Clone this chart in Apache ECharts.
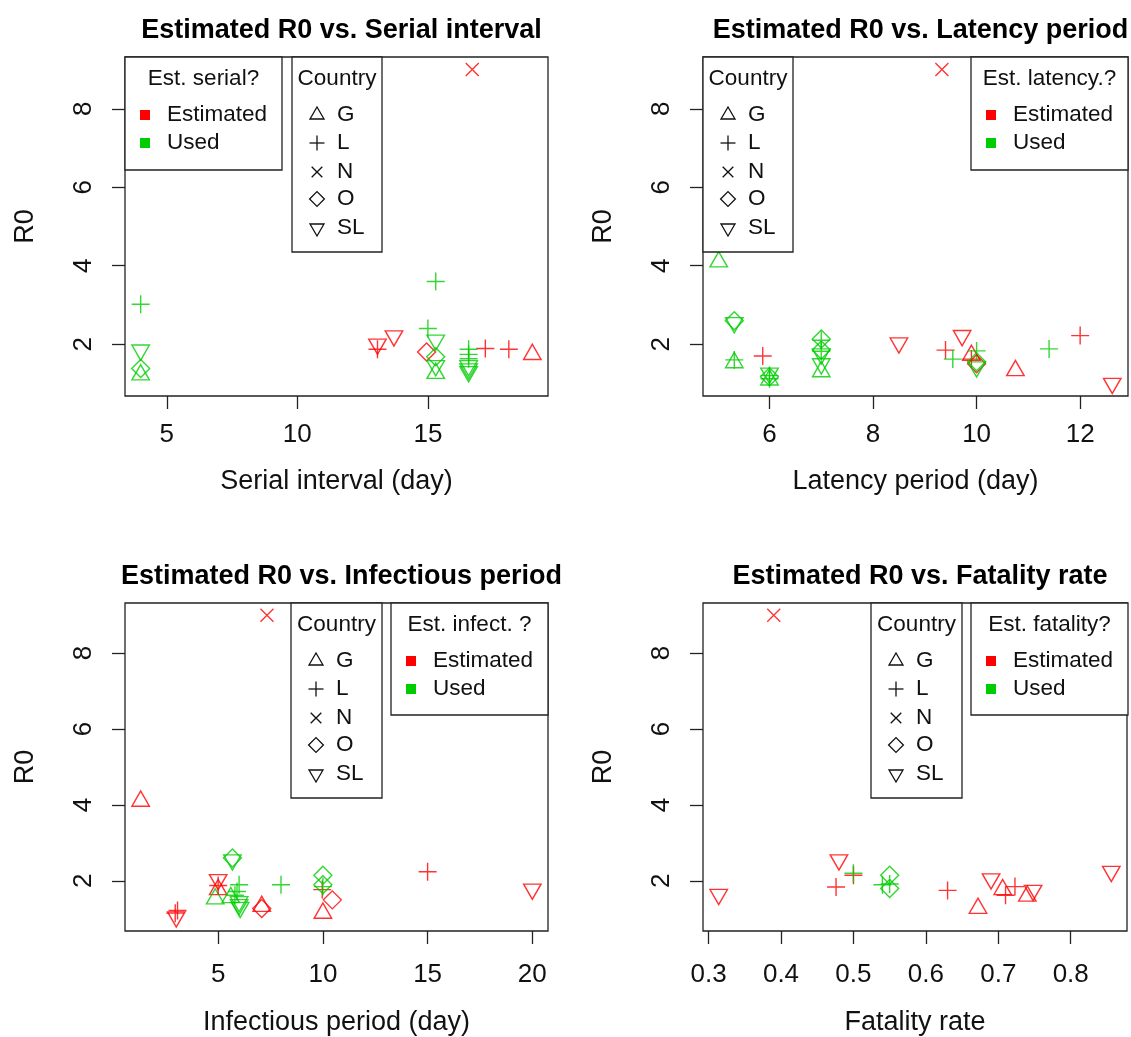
<!DOCTYPE html>
<html><head><meta charset="utf-8">
<script src="https://cdn.jsdelivr.net/npm/echarts@6/dist/echarts.min.js"></script>
<style>html,body{margin:0;padding:0;background:#fff}#c{width:1131px;height:1037px}</style>
</head><body><div id="c"></div>
<script>
const FONT = "'Liberation Sans', Arial, sans-serif";
const RED = '#ff0000', GREEN = '#00cd00', INK = '#111';

// ---------- DATA ----------
// est: 1 = Estimated (red), 0 = Used (green)
const serialX       = [4.0, 4.0, 4.0, 4.0, 13.07, 13.07, 13.7, 15.0, 15.3, 15.3, 14.95, 15.3, 15.3, 15.3, 16.56, 16.56, 16.56, 16.56, 16.56, 16.56, 17.2, 18.1, 19.0, 16.7];
const serialR0      = [3.02, 1.85, 1.38, 1.22, 2.0, 1.87, 2.21, 2.40, 3.6, 2.1, 1.80, 1.68, 1.45, 1.26, 1.87, 1.74, 1.63, 1.45, 1.37, 1.3, 1.89, 1.87, 1.74, 9.0];
const serialCountry = ['L','SL','O','G','SL','L','SL','L','L','SL','O','O','SL','G','L','L','L','SL','SL','SL','L','L','G','N'];
const serialEst     = [0,0,0,0,1,1,1,0,0,0,1,0,0,0,0,0,0,0,0,0,1,1,1,1];

const latencyX       = [5.02, 5.32, 5.32, 5.32, 5.32, 5.87, 6.0, 6.0, 6.0, 6.0, 6.0, 7.0, 7.0, 7.0, 7.0, 7.0, 7.0, 7.0, 8.5, 9.4, 9.54, 9.72, 9.9, 9.9, 10.0, 10.0, 10.0, 10.0, 10.75, 11.4, 12.0, 12.62, 9.33];
const latencyR0      = [4.1, 2.6, 2.55, 1.53, 1.6, 1.7, 1.26, 1.09, 1.2, 1.17, 1.12, 2.13, 2.1, 1.85, 1.82, 1.75, 1.5, 1.3, 2.03, 1.85, 1.62, 2.22, 1.72, 1.62, 1.83, 1.55, 1.42, 1.5, 1.33, 1.88, 2.22, 1.0, 9.0];
const latencyCountry = ['G','O','SL','G','L','L','SL','G','L','O','L','O','L','O','L','SL','SL','G','SL','L','L','SL','G','L','L','O','SL','O','G','L','L','SL','N'];
const latencyEst     = [0,0,0,0,0,1,0,0,0,0,0,0,0,0,0,0,0,0,1,1,0,1,1,1,0,0,0,1,1,0,1,1,1];

const infectX       = [1.3, 3.0, 3.06, 2.95, 5.0, 5.0, 5.0, 4.86, 5.68, 5.68, 5.6, 6.0, 5.9, 5.8, 6.0, 6.0, 6.05, 7.08, 7.08, 8.0, 10.0, 10.0, 10.0, 9.97, 10.45, 10.0, 15.0, 20.0, 7.33];
const infectR0      = [4.1, 1.05, 1.22, 1.15, 2.03, 1.77, 1.88, 1.53, 2.6, 2.55, 1.56, 1.9, 1.72, 1.62, 1.45, 1.37, 1.3, 1.27, 1.33, 1.9, 2.15, 1.9, 1.85, 1.77, 1.5, 1.15, 2.24, 1.78, 9.0];
const infectCountry = ['G','SL','L','L','SL','G','L','G','O','SL','G','L','L','L','SL','SL','SL','O','G','L','O','O','L','L','O','G','L','SL','N'];
const infectEst     = [1,1,1,1,1,1,1,0,0,0,0,0,0,0,0,0,0,1,1,0,0,0,0,1,1,1,1,1,1];

const fatalX       = [0.314, 0.48, 0.476, 0.5, 0.5, 0.54, 0.55, 0.55, 0.55, 0.63, 0.69, 0.672, 0.706, 0.71, 0.723, 0.748, 0.74, 0.856, 0.39];
const fatalR0      = [1.64, 2.55, 1.84, 2.2, 2.15, 1.9, 1.92, 2.15, 1.8, 1.75, 2.05, 1.28, 1.77, 1.62, 1.85, 1.75, 1.6, 2.25, 9.0];
const fatalCountry = ['SL','SL','L','L','L','L','L','O','O','L','SL','G','G','L','L','SL','G','SL','N'];
const fatalEst     = [1,1,1,0,1,0,0,0,0,1,1,1,1,1,1,1,1,1,1];

const countries = ['G','L','N','O','SL'];
const estLabels = ['Estimated','Used'];
const r0Ticks = [2,4,6,8];
const serialTicks = [5,10,15];
const latencyTicks = [6,8,10,12];
const infectTicks = [5,10,15,20];
const fatalTicks = [0.3,0.4,0.5,0.6,0.7,0.8];
const panelTitles = ['Estimated R0 vs. Serial interval','Estimated R0 vs. Latency period','Estimated R0 vs. Infectious period','Estimated R0 vs. Fatality rate'];
const xNames = ['Serial interval (day)','Latency period (day)','Infectious period (day)','Fatality rate'];
const estTitles = ['Est. serial?','Est. latency.?','Est. infect. ?','Est. fatality?'];
const yName = 'R0';

// ---------- LAYOUT ----------
const grids = [
  {left:125, top:57, width:423, height:339},
  {left:703, top:57, width:425, height:339},
  {left:125, top:603, width:423, height:338},
  {left:703, top:603, width:424, height:338}
];
const labelMargins = [26, 26, 31, 31];
const nameGaps = [72, 72, 78, 78];
// legend boxes: [countryBox, estBox]
const legendBoxes = [
  {country:{x:292,y:57,w:90,h:195}, est:{x:125,y:57,w:157,h:113}},
  {country:{x:703,y:57,w:90,h:195}, est:{x:971,y:57,w:157,h:113}},
  {country:{x:291,y:603,w:91,h:195}, est:{x:391,y:603,w:157,h:112}},
  {country:{x:871,y:603,w:91,h:195}, est:{x:971,y:603,w:157,h:112}}
];

const panels = [
  {x:serialX, y:serialR0, c:serialCountry, e:serialEst, ticks:serialTicks},
  {x:latencyX, y:latencyR0, c:latencyCountry, e:latencyEst, ticks:latencyTicks},
  {x:infectX, y:infectR0, c:infectCountry, e:infectEst, ticks:infectTicks},
  {x:fatalX, y:fatalR0, c:fatalCountry, e:fatalEst, ticks:fatalTicks}
];

function rRange(arr){ const mn=Math.min(...arr), mx=Math.max(...arr), d=(mx-mn)*0.04; return [mn-d, mx+d]; }
const allR0 = [].concat(serialR0, latencyR0, infectR0, fatalR0);
const yRange = rRange(allR0);

const symbols = {
  G:  {symbol:'path://M0,13L7.5,0L15,13Z', size:[17.5,15.2], offset:[0,-2.5]},
  L:  {symbol:'path://M0,5L10,5M5,0L5,10', size:18, offset:[0,0]},
  N:  {symbol:'path://M0,0L10,10M0,10L10,0', size:13, offset:[0,0]},
  O:  {symbol:'path://M5,0L10,5L5,10L0,5Z', size:18, offset:[0,0]},
  SL: {symbol:'path://M0,0L15,0L7.5,13Z', size:[17.5,15.2], offset:[0,2.5]}
};

const grid = [], xAxis = [], yAxis = [], series = [], title = [], graphic = [];
panels.forEach((p, i) => {
  const g = grids[i];
  grid.push(Object.assign({show:true, borderColor:'#222', borderWidth:1.3, backgroundColor:'transparent', containLabel:false}, g));
  const xr = rRange(p.x);
  xAxis.push({
    gridIndex:i, type:'value', min:xr[0], max:xr[1],
    axisLine:{show:false}, splitLine:{show:false},
    axisTick:{show:true, inside:false, length:13, lineStyle:{color:'#222', width:1.3}, customValues:p.ticks},
    axisLabel:{customValues:p.ticks, fontSize:26, color:INK, margin:labelMargins[i], fontFamily:FONT},
    name:xNames[i], nameLocation:'middle', nameGap:nameGaps[i],
    nameTextStyle:{fontSize:27, color:INK, fontFamily:FONT}
  });
  yAxis.push({
    gridIndex:i, type:'value', min:yRange[0], max:yRange[1],
    axisLine:{show:false}, splitLine:{show:false},
    axisTick:{show:true, inside:false, length:13, lineStyle:{color:'#222', width:1.3}, customValues:r0Ticks},
    axisLabel:{customValues:r0Ticks, fontSize:26, color:INK, margin:28, rotate:90, fontFamily:FONT},
    name:yName, nameLocation:'middle', nameGap:86,
    nameTextStyle:{fontSize:27, color:INK, fontFamily:FONT}
  });
  title.push({
    text:panelTitles[i], left:g.left + g.width/2, top:g.top - 45, textAlign:'center',
    textStyle:{fontSize:27, fontWeight:'bold', color:'#000', fontFamily:FONT}
  });
  countries.forEach(c => {
    [1,0].forEach(est => {
      const data = [];
      p.x.forEach((xv, k) => { if (p.c[k] === c && p.e[k] === est) data.push([xv, p.y[k]]); });
      if (!data.length) return;
      const s = symbols[c];
      series.push({
        type:'scatter', name:c + (est ? ' (Estimated)' : ' (Used)'),
        xAxisIndex:i, yAxisIndex:i, data,
        symbol:s.symbol, symbolSize:s.size, symbolOffset:s.offset, symbolKeepAspect:false,
        itemStyle:{color:'transparent', borderColor: est ? RED : GREEN, borderWidth:1.4},
        emphasis:{disabled:true}, silent:true, z:2
      });
    });
  });

  // legends
  const lb = legendBoxes[i];
  const cb = lb.country, eb = lb.est;
  const txt = (t, x, y, align) => ({type:'text', z:101, x, y, style:{text:t, fontSize:22.5, fontFamily:FONT, fill:INK, align:align||'left', verticalAlign:'middle', textAlign:align||'left', textVerticalAlign:'middle'}});
  graphic.push({type:'rect', z:100, shape:{x:cb.x, y:cb.y, width:cb.w, height:cb.h}, style:{fill:'#fff', stroke:'#222', lineWidth:1.3}});
  graphic.push(txt('Country', cb.x + cb.w/2, cb.y + 22, 'center'));
  const sx = cb.x + 25;
  const rowY = [58, 86, 115, 142, 171].map(d => cb.y + d);
  const stroke = {fill:'none', stroke:'#111', lineWidth:1.3};
  graphic.push({type:'polygon', z:101, shape:{points:[[sx-7,rowY[0]+4],[sx,rowY[0]-8],[sx+7,rowY[0]+4]]}, style:stroke});
  graphic.push({type:'line', z:101, shape:{x1:sx-7.5,y1:rowY[1],x2:sx+7.5,y2:rowY[1]}, style:stroke});
  graphic.push({type:'line', z:101, shape:{x1:sx,y1:rowY[1]-7.5,x2:sx,y2:rowY[1]+7.5}, style:stroke});
  graphic.push({type:'line', z:101, shape:{x1:sx-5.3,y1:rowY[2]-5.3,x2:sx+5.3,y2:rowY[2]+5.3}, style:stroke});
  graphic.push({type:'line', z:101, shape:{x1:sx-5.3,y1:rowY[2]+5.3,x2:sx+5.3,y2:rowY[2]-5.3}, style:stroke});
  graphic.push({type:'polygon', z:101, shape:{points:[[sx-7.4,rowY[3]],[sx,rowY[3]-7.4],[sx+7.4,rowY[3]],[sx,rowY[3]+7.4]]}, style:stroke});
  graphic.push({type:'polygon', z:101, shape:{points:[[sx-7,rowY[4]-4],[sx+7,rowY[4]-4],[sx,rowY[4]+8]]}, style:stroke});
  countries.forEach((c, k) => graphic.push(txt(c, cb.x + 45, rowY[k])));

  graphic.push({type:'rect', z:100, shape:{x:eb.x, y:eb.y, width:eb.w, height:eb.h}, style:{fill:'#fff', stroke:'#222', lineWidth:1.3}});
  graphic.push(txt(estTitles[i], eb.x + eb.w/2, eb.y + 22, 'center'));
  [RED, GREEN].forEach((col, k) => {
    const yy = eb.y + 58 + k*28;
    graphic.push({type:'rect', z:101, shape:{x:eb.x + 15, y:yy - 5, width:10, height:10}, style:{fill:col}});
    graphic.push(txt(estLabels[k], eb.x + 42, yy));
  });
});

const chart = echarts.init(document.getElementById('c'), null, {renderer:'canvas'});
chart.setOption({
  animation:false, backgroundColor:'#fff',
  title, grid, xAxis, yAxis, series, graphic
});
</script></body></html>
